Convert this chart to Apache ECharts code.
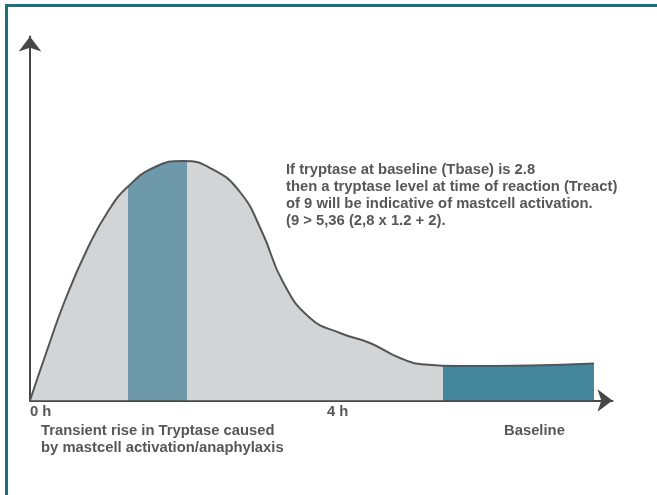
<!DOCTYPE html>
<html>
<head>
<meta charset="utf-8">
<script src="https://cdn.jsdelivr.net/npm/echarts@6/dist/echarts.min.js"></script>
<style>
  html, body { margin: 0; padding: 0; background: #ffffff; }
  #chart { width: 657px; height: 495px; position: absolute; left: 0; top: 0; }
  #frame { position: absolute; left: 5px; top: 4px; width: 652px; height: 491px;
           border-top: 3px solid #19707f; border-left: 3px solid #19707f; box-sizing: border-box; pointer-events: none; }
</style>
</head>
<body>
<div id="chart"></div>
<div id="frame"></div>
<script>
// time in hours after reaction
const hours = [0, 0.229, 0.471, 0.781, 1.05, 1.32, 1.684, 2.061, 2.451, 2.828, 3.125, 3.407, 3.771, 4.175, 4.579, 4.983, 5.32, 5.791, 6.734, 7.596];
// tryptase level (arbitrary units)
const tryptase = [0, 50, 100, 153, 189, 214, 233.5, 239.5, 231.5, 208.5, 168.5, 118.5, 82.5, 67.5, 57.5, 42.5, 36, 34.5, 35, 37];
// highlighted phases (hours)
const peakPhase = [1.324, 2.118];
const baselinePhase = [5.562, 7.596];
const tickValues = [0, 4];
const tickLabels = ['0 h', '4 h'];
const annotation = [
  'If tryptase at baseline (Tbase) is 2.8',
  'then a tryptase level at time of reaction (Treact)',
  'of 9 will be indicative of mastcell activation.',
  '(9 > 5,36 (2,8 x 1.2 + 2).'
];
const captionLeft = ['Transient rise in Tryptase caused', 'by mastcell activation/anaphylaxis'];
const captionRight = 'Baseline';

const data = hours.map((h, i) => [h, tryptase[i]]);
const FONT = '"Liberation Sans", Arial, Helvetica, sans-serif';
const TXT = '#575757';
const FS = 14.8;

const chart = echarts.init(document.getElementById('chart'), null, { renderer: 'canvas' });
chart.setOption({
  animation: false,
  backgroundColor: '#ffffff',
  grid: { left: 30, right: 44.5, top: 36.5, bottom: 94.5, containLabel: false },
  xAxis: {
    type: 'value', min: 0, max: 7.845, interval: 4,
    axisLine: { show: true, symbol: ['none', 'arrow'], symbolSize: [17, 15], lineStyle: { color: '#474747', width: 2 } },
    axisTick: { show: false },
    splitLine: { show: false },
    axisLabel: {
      show: true, margin: 4, align: 'left', color: TXT, fontWeight: 'bold', fontSize: FS, fontFamily: FONT,
      showMaxLabel: false,
      formatter: function (v) { const i = tickValues.indexOf(v); return i >= 0 ? tickLabels[i] : ''; }
    }
  },
  yAxis: {
    type: 'value', min: 0, max: 364,
    axisLine: { show: true, symbol: ['none', 'arrow'], symbolSize: [17, 15], lineStyle: { color: '#474747', width: 2 } },
    axisTick: { show: false }, axisLabel: { show: false }, splitLine: { show: false }
  },
  visualMap: {
    show: false, type: 'piecewise', dimension: 0, seriesIndex: 0,
    pieces: [
      { lt: peakPhase[0], color: '#d3d4d6' },
      { gte: peakPhase[0], lte: peakPhase[1], color: '#6d99aa' },
      { gt: peakPhase[1], lt: baselinePhase[0], color: '#d3d4d6' },
      { gte: baselinePhase[0], color: '#44869b' }
    ]
  },
  series: [
    {
      type: 'line', data: data, smooth: 0.5, showSymbol: false, silent: true,
      lineStyle: { width: 0, opacity: 0 },
      areaStyle: { opacity: 1 }, z: 1
    },
    {
      type: 'line', data: data, smooth: 0.5, showSymbol: false, silent: true,
      lineStyle: { width: 2, color: '#555555' }, itemStyle: { color: '#555555' }, z: 3
    }
  ],
  graphic: [
    { type: 'text', left: 286, top: 161.5, style: { text: annotation.join('\n'), font: 'bold ' + FS + 'px ' + FONT, fill: TXT, lineHeight: 17 } },
    { type: 'text', left: 41, top: 422.5, style: { text: captionLeft.join('\n'), font: 'bold ' + FS + 'px ' + FONT, fill: TXT, lineHeight: 17 } },
    { type: 'text', left: 504, top: 422.5, style: { text: captionRight, font: 'bold ' + FS + 'px ' + FONT, fill: TXT, lineHeight: 17 } }
  ]
});
</script>
</body>
</html>
